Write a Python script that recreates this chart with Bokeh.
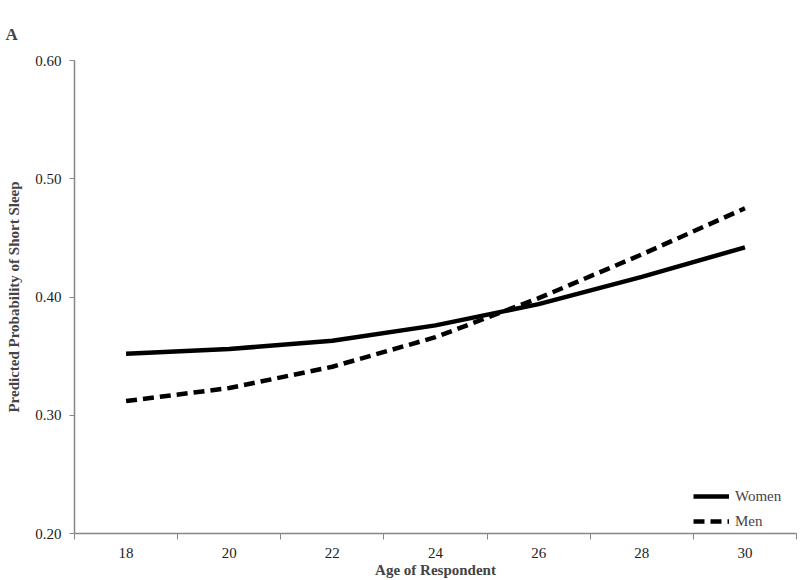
from bokeh.plotting import figure
from bokeh.models import FixedTicker, NumeralTickFormatter, Range1d, Legend, LegendItem, ColumnDataSource
from bokeh.embed import file_html
from bokeh.resources import INLINE

ages = [18, 20, 22, 24, 26, 28, 30]
women = [0.352, 0.356, 0.363, 0.376, 0.394, 0.417, 0.442]
men = [0.312, 0.323, 0.341, 0.366, 0.399, 0.436, 0.475]
y_ticks = [0.20, 0.30, 0.40, 0.50, 0.60]

SERIF = "Liberation Serif"

p = figure(width=800, height=580, output_backend="svg", toolbar_location=None,
           x_range=Range1d(17, 31), y_range=Range1d(0.20, 0.60),
           min_border_left=74, min_border_right=4, min_border_top=60, min_border_bottom=40)
p.title.text = "A"
p.title.text_font = SERIF
p.title.text_font_size = "17px"
p.title.text_font_style = "bold"
p.title.offset = -69
p.title.standoff = 30
p.title.vertical_align = "top"

p.outline_line_color = None
p.xgrid.visible = False
p.ygrid.visible = False

src = ColumnDataSource(dict(x=ages, w=women, m=men))
rw = p.line("x", "w", source=src, line_color="black", line_width=4.5)
rm = p.line("x", "m", source=src, line_color="black", line_width=4.5, line_dash="11 6")

# x axis: category boundaries as ticks, labels at centres
xa = p.xaxis[0]
xa.ticker = FixedTicker(ticks=ages, minor_ticks=[17, 19, 21, 23, 25, 27, 29, 31])
xa.major_tick_out = 0
xa.major_tick_in = 0
xa.minor_tick_out = 6
xa.minor_tick_in = 0
xa.minor_tick_line_color = "#868686"
xa.axis_line_color = "#868686"
xa.axis_line_width = 1.5
xa.major_label_text_font = SERIF
xa.major_label_text_font_size = "15px"
xa.major_label_text_color = "#222222"
xa.major_label_standoff = 8
xa.axis_label = "Age of Respondent"
xa.axis_label_text_font = SERIF
xa.axis_label_text_font_size = "15px"
xa.axis_label_text_font_style = "bold"
xa.axis_label_standoff = 1

ya = p.yaxis[0]
ya.ticker = FixedTicker(ticks=y_ticks, minor_ticks=[])
ya.formatter = NumeralTickFormatter(format="0.00")
ya.major_tick_out = 5
ya.major_tick_in = 0
ya.major_tick_line_color = "#868686"
ya.axis_line_color = "#868686"
ya.axis_line_width = 1.5
ya.major_label_text_font = SERIF
ya.major_label_text_font_size = "15px"
ya.major_label_text_color = "#222222"
ya.major_label_standoff = 8
ya.axis_label = "Predicted Probability of Short Sleep"
ya.axis_label_text_font = SERIF
ya.axis_label_text_font_size = "15px"
ya.axis_label_text_font_style = "bold"
ya.axis_label_standoff = 10

legend = Legend(items=[LegendItem(label="Women", renderers=[rw]),
                       LegendItem(label="Men", renderers=[rm])],
                location=(619, 2))
legend.border_line_color = None
legend.background_fill_alpha = 0
legend.label_text_font = SERIF
legend.label_text_font_size = "15px"
legend.glyph_width = 36
legend.glyph_height = 20
legend.spacing = 5
legend.label_standoff = 6
legend.padding = 0
legend.margin = 0
p.add_layout(legend)

open("out.html", "w").write(file_html(p, INLINE))
